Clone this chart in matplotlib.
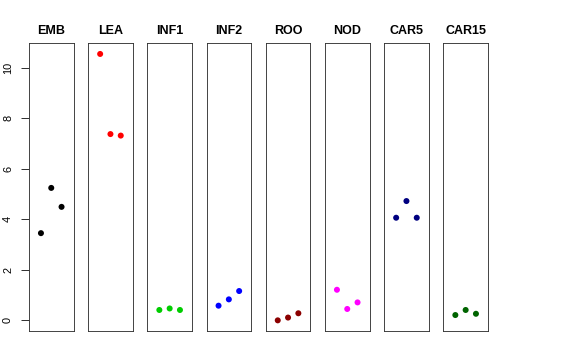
import matplotlib
matplotlib.use("Agg")
import matplotlib.pyplot as plt

plt.rcParams['font.family'] = ['Liberation Sans', 'DejaVu Sans']

categories = ["EMB", "LEA", "INF1", "INF2", "ROO", "NOD", "CAR5", "CAR15"]
values = {
    "EMB": [3.45, 5.24, 4.49],
    "LEA": [10.54, 7.37, 7.31],
    "INF1": [0.41, 0.47, 0.41],
    "INF2": [0.58, 0.83, 1.16],
    "ROO": [0.0, 0.11, 0.28],
    "NOD": [1.21, 0.45, 0.71],
    "CAR5": [4.06, 4.72, 4.06],
    "CAR15": [0.21, 0.41, 0.26],
}
colors = ["#000000", "#FF0000", "#00CD00", "#0000FF", "#8B0000", "#FF00FF", "#000080", "#006400"]
yticks = [0, 2, 4, 6, 8, 10]
xpos = [1, 2, 3]

W, H = 576, 360
fig = plt.figure(figsize=(W / 72, H / 72), dpi=72)

allv = [v for c in categories for v in values[c]]
ymin, ymax = min(allv), max(allv)
pad = 0.04 * (ymax - ymin)

left0, step, pw = 29.0, 59.2, 44.5
top, bottom = 43.3, 331.0
for i, cat in enumerate(categories):
    ax = fig.add_axes([(left0 + step * i) / W, (H - bottom) / H, pw / W, (bottom - top) / H])
    ax.scatter(xpos, values[cat], s=36, color=colors[i], edgecolors='none', zorder=3)
    ax.set_xlim(0 - 0.16, 4 + 0.16)
    ax.set_ylim(ymin - pad, ymax + pad)
    ax.set_xticks([])
    for s in ax.spines.values():
        s.set_linewidth(0.9)
        s.set_color('#333333')
    ax.set_title(cat, fontsize=12.5, fontweight='bold', pad=9.5)
    if i == 0:
        ax.set_yticks(yticks)
        ax.set_yticklabels([str(t) for t in yticks], rotation=90, va='center', fontsize=11)
        ax.tick_params(axis='y', length=8, width=0.8, pad=8)
    else:
        ax.set_yticks([])

fig.savefig("out.png", dpi=72)
